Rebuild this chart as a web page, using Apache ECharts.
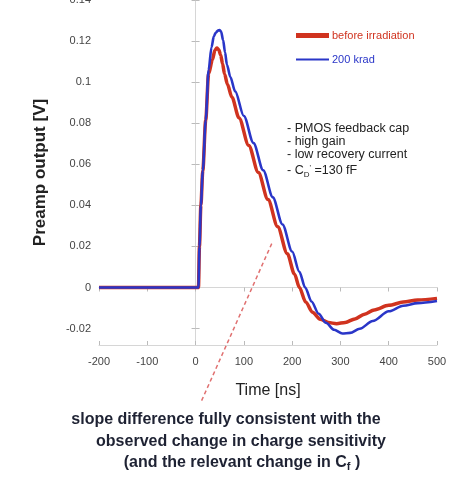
<!DOCTYPE html>
<html><head><meta charset="utf-8">
<script src="https://cdn.jsdelivr.net/npm/echarts@6/dist/echarts.min.js"></script>
<style>html,body{margin:0;padding:0;background:#fff}#c{width:466px;height:483px}</style>
</head><body><div id="c"></div>
<script>
const seriesNames = ['before irradiation', '200 krad'];
const redTime = [-200,0,6,8,11,15,21,27,35,40,44,48,52,56,60,66,75,90,110,130,150,170,190,205,215,228,242,258,275,292,310,330,350,370,400,430,460,500];
const redVolt = [0,0,0,0.02,0.04,0.057,0.0815,0.104,0.111,0.1155,0.1166,0.1158,0.1132,0.1088,0.104,0.099,0.0928,0.0826,0.0692,0.056,0.0428,0.0296,0.0164,0.0065,0,-0.007,-0.012,-0.0154,-0.0171,-0.0176,-0.017,-0.0153,-0.013,-0.0109,-0.0087,-0.0071,-0.0061,-0.0053];
const blueTime = [-200,0,6,8,11,15,21,27,33,38,42,47,50,53,57,61,65,72,82,100,120,140,160,180,200,215,227,240,255,270,287,304,320,340,367,400,430,460,500];
const blueVolt = [0,0,0,0.02,0.04,0.057,0.0815,0.106,0.117,0.1225,0.1242,0.1252,0.1254,0.1245,0.1205,0.1145,0.1085,0.1025,0.0955,0.0835,0.0703,0.0571,0.0439,0.0307,0.0175,0.0076,0,-0.0068,-0.0128,-0.0172,-0.0206,-0.0224,-0.0221,-0.0201,-0.0163,-0.0116,-0.0089,-0.0076,-0.0066];
const yTicks = [-0.02,0,0.02,0.04,0.06,0.08,0.1,0.12,0.14];
const notes = ['- PMOS feedback cap', '- high gain', '- low recovery current'];
const caption = ['slope difference fully consistent with the', 'observed change in charge sensitivity'];

const zip = (a, b) => a.map((t, i) => [t, b[i]]);
const red = '#d0331f', blue = '#2a36c8', frame = '#d6d6d6';
const chart = echarts.init(document.getElementById('c'));
const fmt = v => String(+(+v).toFixed(2));
const FF = 'Liberation Sans';
const yAxisBase = {
  type: 'value', min: -0.028, max: 0.14,
  axisLine: {show: true, lineStyle: {color: frame}},
  splitLine: {show: false}
};
chart.setOption({
  animation: false,
  grid: {left: 99, right: 29, top: 0, bottom: 138, outerBoundsMode: 'none', containLabel: false},
  legend: [
    {data: [{name: seriesNames[0], textStyle: {color: red}}], left: 291, top: 25, icon: 'rect', itemWidth: 33, itemHeight: 5, itemGap: 4,
     textStyle: {fontSize: 11, fontFamily: FF, padding: [0,0,0,-2]}},
    {data: [{name: seriesNames[1], textStyle: {color: blue}}], left: 291, top: 49, icon: 'rect', itemWidth: 33, itemHeight: 2,
     textStyle: {fontSize: 11, fontFamily: FF, padding: [0,0,0,-2]}}
  ],
  xAxis: [
    {type: 'value', min: -200, max: 500, interval: 100, position: 'bottom',
     axisLine: {show: true, onZero: false, lineStyle: {color: frame}},
     axisTick: {show: true, inside: true, length: 4, lineStyle: {color: '#bbb'}},
     splitLine: {show: false},
     axisLabel: {fontSize: 11, color: '#444', margin: 11, fontFamily: FF},
     name: 'Time [ns]', nameLocation: 'middle', nameGap: 38,
     nameTextStyle: {fontSize: 16, color: '#222', fontFamily: FF}},
    {type: 'value', min: -200, max: 500, interval: 100, position: 'top',
     axisLine: {show: true, lineStyle: {color: frame}},
     axisTick: {show: true, inside: true, length: 4, lineStyle: {color: '#bbb'}},
     axisLabel: {show: false}, splitLine: {show: false}}
  ],
  yAxis: [
    Object.assign({}, yAxisBase, {position: 'left',
     axisTick: {show: true, inside: true, length: 4, customValues: yTicks, lineStyle: {color: '#bbb'}},
     axisLabel: {customValues: yTicks, formatter: fmt, fontSize: 11, color: '#444', margin: 8, fontFamily: FF},
     name: 'Preamp output [V]', nameLocation: 'middle', nameGap: 50,
     nameTextStyle: {fontSize: 17, fontWeight: 'bold', color: '#222', fontFamily: FF}}),
    Object.assign({}, yAxisBase, {position: 'right',
     axisTick: {show: true, inside: true, length: 4, customValues: yTicks, lineStyle: {color: '#bbb'}},
     axisLabel: {show: false}})
  ],
  series: [
    {name: seriesNames[0], type: 'line', data: zip(redTime, redVolt), showSymbol: false, symbol: 'none',
     smooth: 0.3, smoothMonotone: 'x', color: red, lineStyle: {width: 3.5, color: red}, z: 2},
    {name: seriesNames[1], type: 'line', data: zip(blueTime, blueVolt), showSymbol: false, symbol: 'none',
     smooth: 0.3, smoothMonotone: 'x', color: blue, lineStyle: {width: 2.6, color: blue}, z: 3}
  ]
});
const p1 = chart.convertToPixel({xAxisIndex: 0, yAxisIndex: 0}, [12.5, -0.0551]);
const p2 = chart.convertToPixel({xAxisIndex: 0, yAxisIndex: 0}, [158, 0.0215]);
const noteEls = notes.map((s, i) => ({type: 'text', left: 287, top: 122 + i * 13,
  style: {text: s, fontSize: 12.5, fill: '#222', fontFamily: FF}}));
noteEls.push({type: 'text', left: 287, top: 164,
  style: {text: '- C{sub|D}{sup|\'} =130 fF', fontSize: 12.5, fill: '#222', fontFamily: FF,
    rich: {sub: {fontSize: 8, padding: [7,0,0,0], fill: '#222', fontFamily: FF}, sup: {fontSize: 8, padding: [0,0,6,0], fill: '#222', fontFamily: FF}}}});
const capStyle = {fontSize: 16, fontWeight: 'bold', fill: '#1e2233', fontFamily: FF, align: 'center', verticalAlign: 'middle'};
chart.setOption({graphic: noteEls.concat([
  {type: 'line', shape: {x1: p1[0], y1: p1[1], x2: p2[0], y2: p2[1]}, style: {stroke: '#e07070', lineWidth: 1.5, lineDash: [4, 3]}, z: 1},
  {type: 'text', x: 226, y: 420, style: Object.assign({text: caption[0]}, capStyle)},
  {type: 'text', x: 241, y: 442, style: Object.assign({text: caption[1]}, capStyle)},
  {type: 'text', x: 242, y: 463, style: Object.assign({text: '(and the relevant change in C{sub|f} )',
    rich: {sub: {fontSize: 11, fontWeight: 'bold', padding: [7,0,0,0], fill: '#1e2233', fontFamily: FF}}}, capStyle)}
])});
</script></body></html>
